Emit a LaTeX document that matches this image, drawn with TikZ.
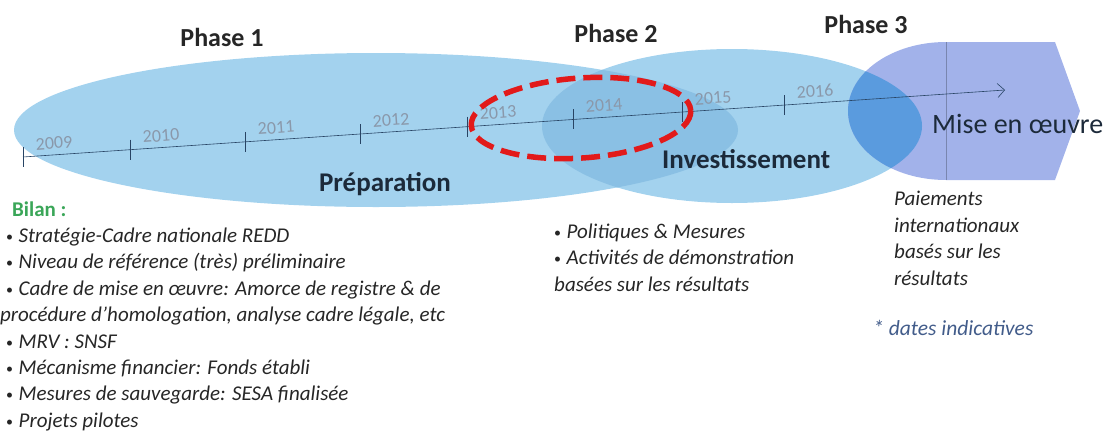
\documentclass[tikz,border=0pt]{standalone}
\usepackage{fontspec}
\setmainfont{Carlito}
\usetikzlibrary{positioning,arrows.meta}

\definecolor{phaseblue}{RGB}{163,210,238}
\definecolor{overlapblue}{RGB}{138,192,228}
\definecolor{phaselilac}{RGB}{162,178,234}
\definecolor{deepblue}{RGB}{90,155,222}
\definecolor{axisblue}{RGB}{40,68,100}
\definecolor{yeargray}{RGB}{138,152,170}
\definecolor{darkred}{RGB}{226,26,26}
\definecolor{bilangreen}{RGB}{58,166,88}
\definecolor{textgray}{RGB}{38,38,38}
\definecolor{stagenavy}{RGB}{28,42,58}
\definecolor{notegray}{RGB}{66,92,138}

\begin{document}
\begin{tikzpicture}[x=1pt,y=-1pt,>={Straight Barb[length=7pt,width=14pt]},
	phaselabel/.style={font=\fontsize{26}{30}\selectfont\bfseries,
		text=textgray,anchor=base,inner sep=0},
	stagelabel/.style={font=\fontsize{27}{32}\selectfont\bfseries,
		text=stagenavy,anchor=base,inner sep=0},
	listtext/.style={font=\fontsize{21}{26}\selectfont\itshape,
		text=textgray,anchor=base west,inner sep=0}]
\useasboundingbox (0,0) rectangle (1107,434);
\def\bul{\makebox[12.5pt][l]{\raisebox{1pt}{\fontsize{14}{14}\selectfont\upshape•}}}

\def\phaseone{(376,130) ellipse[x radius=362,y radius=77]}
\def\phasetwo{(732,126) ellipse[x radius=190,y radius=77]}
\def\phasethree{(946,111) ellipse[x radius=98,y radius=69]}

% the three phases
\fill[phaseblue] \phasetwo;
\fill[phaselilac] \phasethree;
\fill[phaselilac] (946,42) -- (1055,42) -- (1080,111) -- (1055,180)
	-- (946,180) -- cycle;
\draw[phaselilac!75!black,thin] (946,42) -- (946,180);
\fill[phaseblue] \phaseone;

\begin{scope}
\clip \phaseone;
\fill[overlapblue] \phasetwo;
\end{scope}
\begin{scope}
\clip \phasetwo;
\fill[deepblue] \phasethree;
\end{scope}

% timeline
\coordinate (t0) at (23,157);
\coordinate (tend) at (1005,90);
\draw[axisblue,semithick,->] (t0) -- (tend);

\foreach \x/\yr in {23/2009,130/2010,245/2011,360/2012,
	467/2013,573/2014,682/2015,784/2016}{
	\pgfmathsetmacro{\ty}{157-0.06823*(\x-23)}
	\draw[axisblue,semithick] (\x,\ty-10) -- (\x,\ty+10);
	\node[text=yeargray,font=\fontsize{18}{20}\selectfont,rotate=4]
		(y\yr) at (\x+31,\ty-14) {\yr};
}

% red dashed zone
\draw[darkred,line width=5.5pt,dash pattern=on 19pt off 8pt,
	rotate around={4:(581,118)}]
	(581,118) ellipse[x radius=110,y radius=40];

\node[phaselabel] (ph1) at (222,46) {Phase 1};
\node[phaselabel] (ph2) at (616,42) {Phase 2};
\node[phaselabel] (ph3) at (866,33) {Phase 3};

\node[stagelabel] (prep) at (385,191) {Préparation};
\node[stagelabel,anchor=base west] (inv) at (662,168) {Investissement};
\node[stagelabel,font=\fontsize{28}{32}\selectfont,anchor=base west]
	(mise) at (932,133) {Mise en œuvre};

% bilan of phase 1
\node[listtext,font=\fontsize{21}{26}\selectfont\bfseries,text=bilangreen]
	(bilan) at (12,216) {Bilan :};
\foreach \i/\dx/\txt in {
	1/6/{\bul Stratégie-Cadre nationale REDD},
	2/6/{\bul Niveau de référence (très) préliminaire},
	3/6/{\bul Cadre de mise en œuvre: Amorce de registre \& de},
	4/0/{procédure d’homologation, analyse cadre légale, etc},
	5/6/{\bul MRV : SNSF},
	6/6/{\bul Mécanisme financier: Fonds établi},
	7/6/{\bul Mesures de sauvegarde: SESA finalisée},
	8/6/{\bul Projets pilotes}}{
	\node[listtext] (b\i) at (\dx,216+26.4*\i) {\txt};
}

% phase 2
\foreach \i/\dx/\txt in {
	0/554/{\bul Politiques \& Mesures},
	1/554/{\bul Activités de démonstration},
	2/554/{basées sur les résultats}}{
	\node[listtext] (pm\i) at (\dx,238+26.5*\i) {\txt};
}

% phase 3
\foreach \i/\txt in {0/Paiements,1/internationaux,
	2/basés sur les,3/résultats}{
	\node[listtext] (paie\i) at (894,205.5+26.5*\i) {\txt};
}

\node[listtext,text=notegray,font=\fontsize{21.5}{26}\selectfont\itshape]
	(note) at (873,335) {* dates indicatives};

\end{tikzpicture}
\end{document}
